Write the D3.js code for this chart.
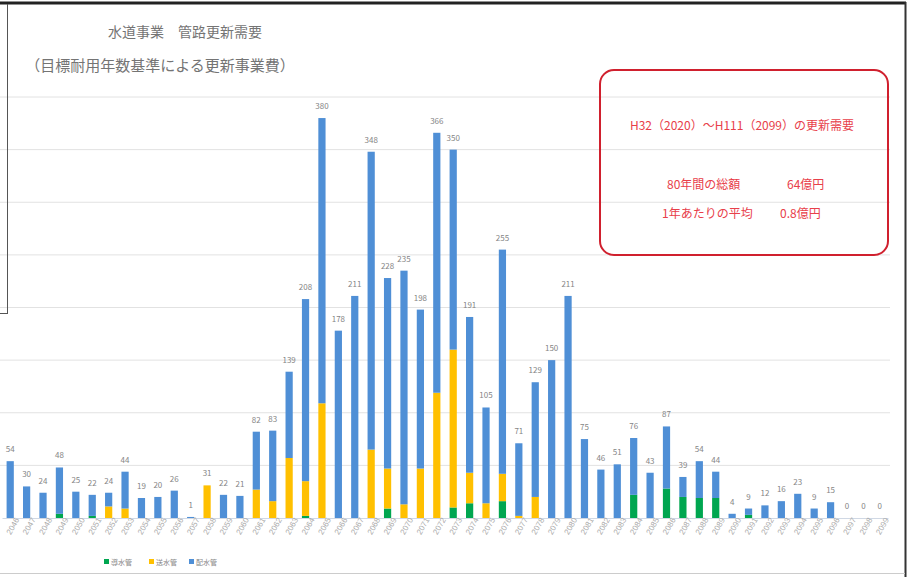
<!DOCTYPE html>
<html>
<head>
<meta charset="utf-8">
<script src="https://cdn.jsdelivr.net/npm/d3@7"></script>
<style>
body { margin: 0; background: #fff; }
svg { display: block; font-family: "Noto Sans CJK JP", "Noto Sans", sans-serif; }
</style>
</head>
<body>
<div id="chart"></div>
<script>
// years shown (2046 - 2099)
var years = [2046,2047,2048,2049,2050,2051,2052,2053,2054,2055,2056,2057,2058,2059,2060,
             2061,2062,2063,2064,2065,2066,2067,2068,2069,2070,2071,2072,2073,2074,2075,
             2076,2077,2078,2079,2080,2081,2082,2083,2084,2085,2086,2087,2088,2089,2090,
             2091,2092,2093,2094,2095,2096,2097,2098,2099];

// 導水管 (green)
var dousui = [0,0,0,4,0,2,0,0,0,0,0,0,0,0,0,
              0,0,0,2,0,0,0,0,9,0,0,0,10,14,0,
              16,0,0,0,0,0,0,0,22,0,28,20,19,19,0,
              3,0,0,0,0,0,0,0,0];

// 送水管 (yellow)
var sousui = [0,0,0,0,0,0,11,9,0,0,0,0,31,0,0,
              27,16,57,33,109,0,0,65,38,13,47,119,150,29,14,
              26,2,20,0,0,0,0,0,0,0,0,0,0,0,0,
              0,0,0,0,0,0,0,0,0];

// 配水管 (blue)
var haisui = [54,30,24,44,25,20,13,35,19,20,26,1,0,22,21,
              55,67,82,173,271,178,211,283,181,222,151,247,190,148,91,
              213,69,109,150,211,75,46,51,54,43,59,19,35,25,4,
              6,12,16,23,9,15,0,0,0];

var seriesNames = ["導水管", "送水管", "配水管"];
var seriesColors = ["#00a650", "#ffc000", "#4f8fd6"];
var yTicks = [0,50,100,150,200,250,300,350,400];

function init() {
    var w = 912;
    var h = 577;

    var svg = d3.select("#chart")
                .append("svg")
                .attr("width", w)
                .attr("height", h);

    // build rows for stacking
    var rows = years.map(function(y, i) {
        return { year: y, dousui: dousui[i], sousui: sousui[i], haisui: haisui[i] };
    });
    var keys = ["dousui", "sousui", "haisui"];
    var stacked = d3.stack().keys(keys)(rows);

    var xScale = d3.scaleBand()
                   .domain(years)
                   .range([2, 888])
                   .paddingInner(0.56)
                   .paddingOuter(0.28);

    var yScale = d3.scaleLinear()
                   .domain([0, 400])
                   .range([518, 97]);

    // gridlines
    svg.append("g")
       .selectAll("line")
       .data(yTicks.slice(1))
       .enter()
       .append("line")
       .attr("x1", 0)
       .attr("x2", 890)
       .attr("y1", d => yScale(d))
       .attr("y2", d => yScale(d))
       .attr("stroke", "#e2e2e2")
       .attr("stroke-width", 1);

    // stacked bars
    svg.append("g")
       .selectAll("g")
       .data(stacked)
       .enter()
       .append("g")
       .attr("fill", (d, i) => seriesColors[i])
       .selectAll("rect")
       .data(d => d)
       .enter()
       .append("rect")
       .attr("x", d => xScale(d.data.year))
       .attr("y", d => yScale(d[1]))
       .attr("width", xScale.bandwidth())
       .attr("height", d => yScale(d[0]) - yScale(d[1]));

    // x axis
    var xAxis = d3.axisBottom(xScale).tickSize(0).tickPadding(5);
    var gx = svg.append("g")
                .attr("transform", "translate(0," + yScale(0) + ")")
                .call(xAxis);
    gx.select(".domain").attr("stroke", "#d0d8e4");
    gx.selectAll("text")
      .attr("fill", "#ababab")
      .style("font-size", "8px")
      .attr("text-anchor", "end")
      .attr("dx", "0.4em")
      .attr("dy", "0.5em")
      .attr("transform", "rotate(-60)");

    // value labels
    svg.append("g")
       .selectAll("text")
       .data(rows)
       .enter()
       .append("text")
       .attr("x", d => xScale(d.year) + xScale.bandwidth() / 2)
       .attr("y", d => yScale(d.dousui + d.sousui + d.haisui) - 9)
       .attr("text-anchor", "middle")
       .attr("fill", "#858585")
       .style("font-size", "8px")
       .text(d => d.dousui + d.sousui + d.haisui);

    // title
    svg.append("text")
       .attr("x", 185)
       .attr("y", 37)
       .attr("text-anchor", "middle")
       .attr("fill", "#747474")
       .style("font-size", "14px")
       .text("水道事業　管路更新需要");

    svg.append("text")
       .attr("x", 160)
       .attr("y", 71)
       .attr("text-anchor", "middle")
       .attr("fill", "#747474")
       .style("font-size", "15px")
       .text("（目標耐用年数基準による更新事業費）");

    // legend
    var legend = svg.append("g").attr("transform", "translate(104,562)");
    seriesNames.forEach(function(name, i) {
        var lx = [0, 45, 85][i];
        legend.append("rect")
              .attr("x", lx)
              .attr("y", -3)
              .attr("width", 5)
              .attr("height", 5)
              .attr("fill", seriesColors[i]);
        legend.append("text")
              .attr("x", lx + 7)
              .attr("y", 2.5)
              .attr("fill", "#888")
              .style("font-size", "7px")
              .text(name);
    });

    // red note box
    svg.append("rect")
       .attr("x", 600)
       .attr("y", 70)
       .attr("width", 288)
       .attr("height", 185)
       .attr("rx", 14)
       .attr("fill", "none")
       .attr("stroke", "#d0202e")
       .attr("stroke-width", 2);

    var noteColor = "#e8404a";
    svg.append("text")
       .attr("x", 742)
       .attr("y", 130)
       .attr("text-anchor", "middle")
       .attr("fill", noteColor)
       .style("font-size", "12px")
       .text("H32（2020）～H111（2099）の更新需要");

    svg.append("text")
       .attr("x", 667)
       .attr("y", 189)
       .attr("fill", noteColor)
       .style("font-size", "12px")
       .text("80年間の総額");
    svg.append("text")
       .attr("x", 787)
       .attr("y", 189)
       .attr("fill", noteColor)
       .style("font-size", "12px")
       .text("64億円");
    svg.append("text")
       .attr("x", 662)
       .attr("y", 218)
       .attr("fill", noteColor)
       .style("font-size", "12px")
       .text("1年あたりの平均");
    svg.append("text")
       .attr("x", 780)
       .attr("y", 218)
       .attr("fill", noteColor)
       .style("font-size", "12px")
       .text("0.8億円");

    // screenshot frame lines
    svg.append("line").attr("x1", 0).attr("x2", 906).attr("y1", 3).attr("y2", 3)
       .attr("stroke", "#222").attr("stroke-width", 3);
    svg.append("line").attr("x1", 7.5).attr("x2", 7.5).attr("y1", 4).attr("y2", 313)
       .attr("stroke", "#555").attr("stroke-width", 1);
    svg.append("line").attr("x1", 0).attr("x2", 8).attr("y1", 313.5).attr("y2", 313.5)
       .attr("stroke", "#555").attr("stroke-width", 1);
    svg.append("line").attr("x1", 905.5).attr("x2", 905.5).attr("y1", 2).attr("y2", 577)
       .attr("stroke", "#333").attr("stroke-width", 2);
    svg.append("line").attr("x1", 0).attr("x2", 905).attr("y1", 573.5).attr("y2", 573.5)
       .attr("stroke", "#ccc").attr("stroke-width", 1);
}

window.onload = init;
</script>
</body>
</html>
